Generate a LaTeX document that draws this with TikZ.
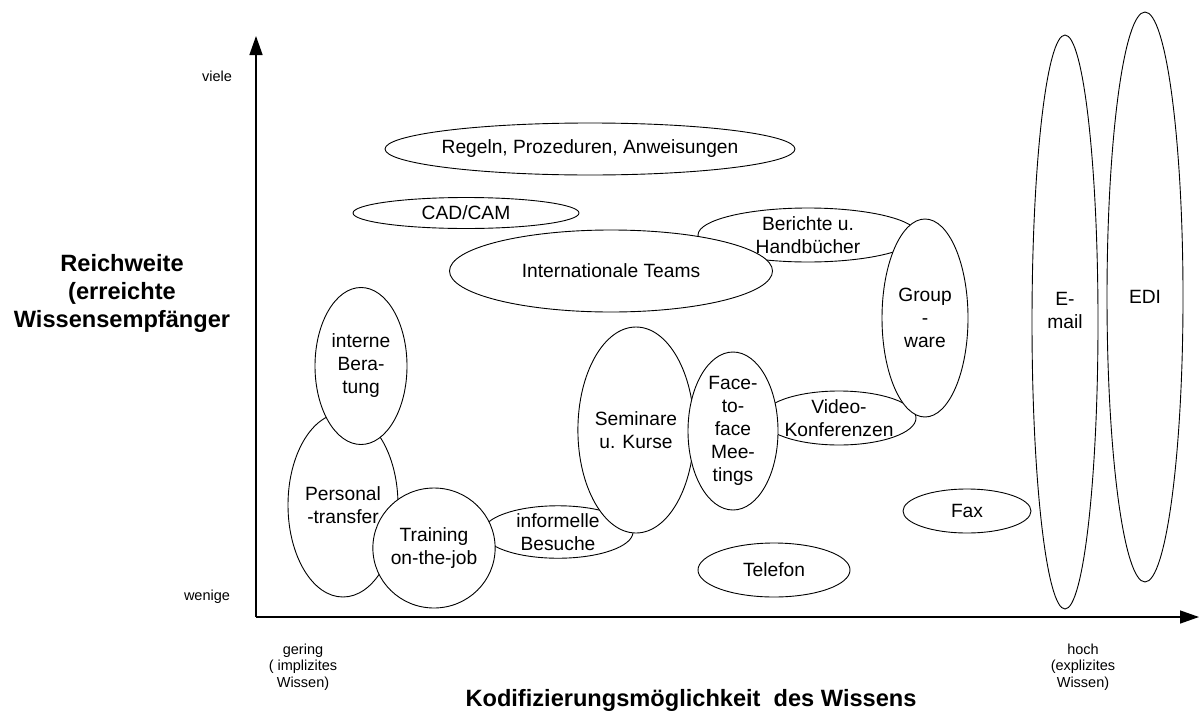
\documentclass[tikz,border=0pt]{standalone}
\usepackage{fontspec}
\setmainfont{Liberation Sans}
\usetikzlibrary{arrows.meta,shapes.geometric}

\begin{document}
\begin{tikzpicture}[
    x=1pt,y=-1pt,
    every node/.style={align=center},
    blob/.style={
        ellipse,
        draw=black,
        fill=white,
        line width=0.9pt,
        inner sep=0pt,
        font=\fontsize{19.2}{23}\selectfont
    },
    blobtext/.style={font=\fontsize{19.2}{23}\selectfont},
    tick/.style={font=\fontsize{14.5}{16.5}\selectfont},
    title/.style={font=\fontsize{23.6}{28}\selectfont\bfseries},
    axis/.style={-{Triangle[length=19pt,width=13pt]},line width=1.4pt}
]
\useasboundingbox (0,0) rectangle (1199,715);

% Axes
\coordinate (origin) at (256,617);
\coordinate (ytip) at (256,36);
\coordinate (xtip) at (1199,617);
\draw[axis] (origin) -- (ytip);
\draw[axis] (origin) -- (xtip);

% Axis labels
\node[tick] (viele) at (217,76) {viele};
\node[tick] (wenige) at (207,597) {wenige};
\node[tick] (gering) at (303,667) {gering\\( implizites\\Wissen)};
\node[tick] (hoch) at (1083,667) {hoch\\(explizites\\Wissen)};
\node[title] (reach) at (122,293) {Reichweite\\(erreichte\\Wissensempf\"anger};
\node[title] (codify) at (691,700) {Kodifizierungsm\"oglichkeit\ \ des Wissens};

% Upper ellipses
\node[blob, inner xsep=-5pt, minimum width=410pt, minimum height=52pt] (regeln) at (590,149)
{Regeln, Prozeduren, Anweisungen};
\node[blob, minimum width=226pt, minimum height=31pt] (cadcam) at (466,213)
{CAD/CAM};
\node[blob, minimum width=220pt, minimum height=54pt] (berichte) at (808,235)
{Berichte u.\\Handb\"ucher};
\node[blob, minimum width=323pt, minimum height=82pt] (teams) at (611,271)
{Internationale Teams};

% Left group
\node[blob, minimum width=110pt, minimum height=184pt] (personal) at (343,505)
{Personal\\-transfer};
\node[blob, minimum width=92pt, minimum height=157pt] (beratung) at (361,366)
{interne\\Bera-\\tung};
\node[blob, minimum width=150pt, minimum height=52pt] (besuche) at (558,532)
{informelle\\Besuche};
\node[blob, minimum width=120pt, minimum height=120pt] (training) at (434,548)
{Training\\on-the-job};

% Middle group
\node[blob, minimum width=114pt, minimum height=206pt] (seminare) at (636,430)
{Seminare\\u. Kurse};
\node[blob, minimum width=152pt, minimum height=54pt] (video) at (839,418)
{Video-\\Konferenzen};
\node[blob, minimum width=90pt, minimum height=158pt] (meetings) at (733,431)
{Face-\\to-\\face\\Mee-\\tings};
\node[blob, minimum width=86pt, minimum height=198pt] (groupware) at (925,318)
{Group\\-\\ware};
\node[blob, minimum width=152pt, minimum height=54pt] (telefon) at (774,570)
{Telefon};
\node[blob, minimum width=128pt, minimum height=44pt] (fax) at (967,511)
{Fax};

% Right ellipses
\node[blob, minimum width=66pt, minimum height=574pt] (email) at (1065,322) {};
\node[blobtext] (emailtext) at (1065,310) {E-\\mail};
\node[blob, minimum width=76pt, minimum height=570pt] (edi) at (1145,297)
{EDI};

\end{tikzpicture}
\end{document}
